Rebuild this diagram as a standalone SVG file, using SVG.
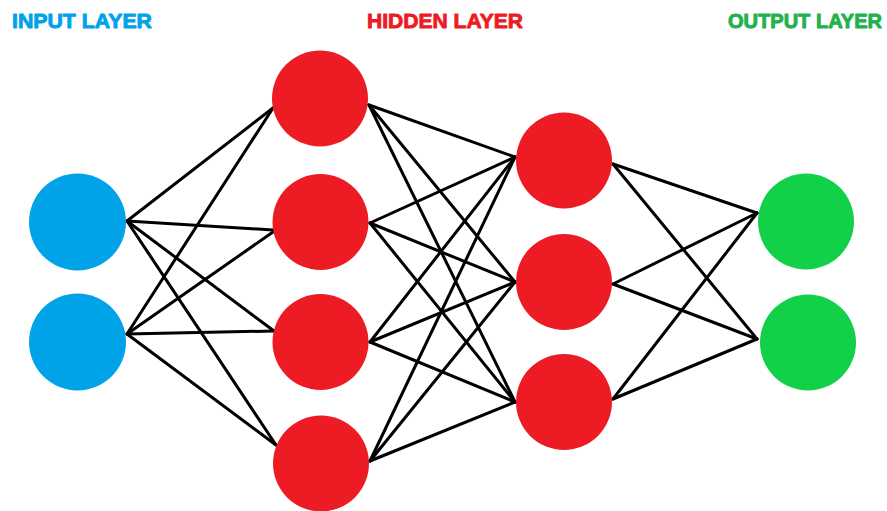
<svg xmlns="http://www.w3.org/2000/svg" width="887" height="511" viewBox="0 0 887 511">
<style>
.t{font-family:"Liberation Sans",Arial,sans-serif;font-weight:bold;font-size:21px;stroke-width:0.9px;stroke-linejoin:round}
.in{fill:#00A2E8}.hid{fill:#ED1C24}.out{fill:#12D048}
#edges line{stroke:#000;stroke-width:3;stroke-linecap:round}
</style>
<rect width="887" height="511" fill="#fff"/>
<text class="t" x="12" y="28" fill="#00A2E8" stroke="#00A2E8" textLength="140" lengthAdjust="spacingAndGlyphs">INPUT LAYER</text>
<text class="t" x="367" y="28" fill="#ED1C24" stroke="#ED1C24" textLength="156" lengthAdjust="spacingAndGlyphs">HIDDEN LAYER</text>
<text class="t" x="728" y="28" fill="#22B14C" stroke="#22B14C" style="font-size:20px" textLength="154" lengthAdjust="spacingAndGlyphs">OUTPUT LAYER</text>
<g id="edges">
<line x1="127" y1="221" x2="273" y2="108"/>
<line x1="127" y1="221" x2="273" y2="230"/>
<line x1="127" y1="221" x2="274" y2="331"/>
<line x1="127" y1="221" x2="276" y2="445"/>
<line x1="127" y1="334" x2="273" y2="108"/>
<line x1="127" y1="334" x2="273" y2="232"/>
<line x1="127" y1="334" x2="274" y2="331"/>
<line x1="127" y1="334" x2="276" y2="445"/>
<line x1="369" y1="105" x2="515" y2="157"/>
<line x1="369" y1="105" x2="515" y2="282"/>
<line x1="369" y1="105" x2="515" y2="402"/>
<line x1="370" y1="223" x2="515" y2="157"/>
<line x1="370" y1="223" x2="515" y2="282"/>
<line x1="370" y1="223" x2="515" y2="402"/>
<line x1="370" y1="342" x2="515" y2="157"/>
<line x1="370" y1="342" x2="515" y2="282"/>
<line x1="370" y1="342" x2="515" y2="402"/>
<line x1="370" y1="461" x2="515" y2="157"/>
<line x1="370" y1="461" x2="515" y2="282"/>
<line x1="370" y1="461" x2="515" y2="402"/>
<line x1="613" y1="164" x2="757" y2="213"/>
<line x1="613" y1="164" x2="757" y2="339"/>
<line x1="613" y1="284" x2="757" y2="213"/>
<line x1="613" y1="284" x2="757" y2="339"/>
<line x1="613" y1="399" x2="757" y2="213"/>
<line x1="613" y1="399" x2="757" y2="339"/>
</g>
<g id="in1"><circle class="in" cx="77.5" cy="222" r="48.5"/></g>
<g id="in2"><circle class="in" cx="77.5" cy="342" r="48.5"/></g>
<g id="h1a"><circle class="hid" cx="320" cy="98.5" r="48"/></g>
<g id="h1b"><circle class="hid" cx="320.5" cy="222" r="48"/></g>
<g id="h1c"><circle class="hid" cx="320.5" cy="342" r="48"/></g>
<g id="h1d"><circle class="hid" cx="321" cy="463.5" r="48"/></g>
<g id="h2a"><circle class="hid" cx="564" cy="160.5" r="48"/></g>
<g id="h2b"><circle class="hid" cx="564" cy="282" r="48"/></g>
<g id="h2c"><circle class="hid" cx="564" cy="402" r="48"/></g>
<g id="o1"><circle class="out" cx="806" cy="221.5" r="48"/></g>
<g id="o2"><circle class="out" cx="808" cy="342.5" r="48"/></g>
</svg>
